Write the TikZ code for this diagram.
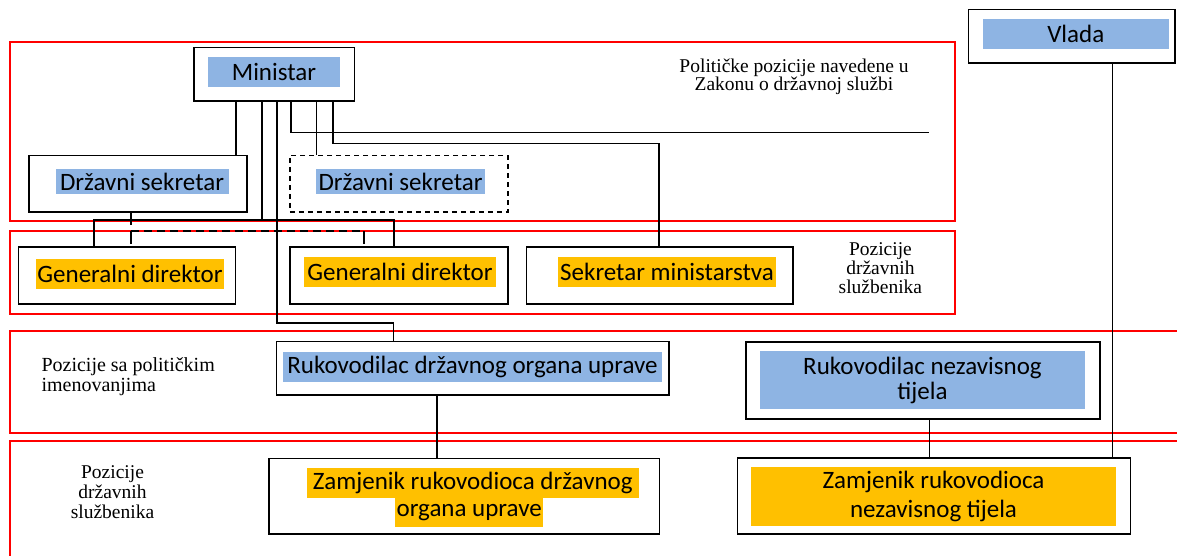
\documentclass[tikz,border=0pt]{standalone}
\usepackage{fontspec}
\setmainfont{Carlito}
\newfontfamily\seriffont{Liberation Serif}
\definecolor{hlblue}{HTML}{8EB4E3}
\definecolor{hlgold}{HTML}{FFC000}
\begin{document}
\begin{tikzpicture}[x=1pt,y=-1pt,
  frame/.style={draw=red, line width=2pt},
  box/.style={draw=black, line width=1.6pt, fill=white, inner sep=0pt},
  dbox/.style={box, dash pattern=on 5pt off 4pt},
  link/.style={draw=black, line width=1.6pt},
  dlink/.style={link, dash pattern=on 8pt off 5pt},
  hl/.style={inner sep=0pt, font=\fontsize{25}{29}\selectfont, align=center, text=black},
  hlb/.style={hl, fill=hlblue},
  hly/.style={hl, fill=hlgold},
  note/.style={font=\seriffont\fontsize{19.5}{18.5}\selectfont, align=center, inner sep=0pt}]
\useasboundingbox (0,0) rectangle (1177,555);

% red frames
\draw[frame] (9.6,42) rectangle (954.5,220.5);
\draw[frame] (9.6,230.7) rectangle (954.5,314);
\draw[frame] (1180,331) -- (9.6,331) -- (9.6,432.5) -- (1180,432.5);
\draw[frame] (1180,440.5) -- (9.6,440.5) -- (9.6,560);

% boxes
\node[box, minimum width=160.4pt, minimum height=53.4pt] (min) at (274.2,74) {};
\node[box, minimum width=218pt, minimum height=56.4pt] (ds1) at (137.75,183.5) {};
\node[dbox, minimum width=218pt, minimum height=56.4pt] (ds2) at (398.75,183.5) {};
\node[box, minimum width=217.3pt, minimum height=56.7pt] (gd1) at (127,275.6) {};
\node[box, minimum width=218.3pt, minimum height=56.7pt] (gd2) at (398.85,275.6) {};
\node[box, minimum width=266.4pt, minimum height=56.7pt] (sek) at (659.8,275.6) {};
\node[box, minimum width=206.3pt, minimum height=53.3pt] (vlada) at (1071.8,36.3) {};
\node[box, minimum width=392.9pt, minimum height=53.3pt] (rdou) at (472.75,368.3) {};
\node[box, minimum width=354pt, minimum height=77pt] (rnt) at (922.7,380.2) {};
\node[box, minimum width=390.6pt, minimum height=75.7pt] (zam1) at (464.3,496.2) {};
\node[box, minimum width=393pt, minimum height=76.3pt] (zam2) at (933.8,495.9) {};

% highlighted texts
\node[hlb, minimum width=132pt, minimum height=30pt] (minT) at (274,72) {Ministar};
\node[hlb, minimum width=173pt, minimum height=25pt] (ds1T) at (142,181.5) {Državni sekretar};
\node[hlb, minimum width=169pt, minimum height=25pt] (ds2T) at (400.5,181.5) {Državni sekretar};
\node[hly, minimum width=188pt, minimum height=29.4pt] (gd1T) at (130,274) {Generalni direktor};
\node[hly, minimum width=192pt, minimum height=29.7pt] (gd2T) at (400,271.8) {Generalni direktor};
\node[hly, minimum width=218pt, minimum height=29.7pt] (sekT) at (667,271.8) {Sekretar ministarstva};
\node[hlb, minimum width=186.3pt, minimum height=30pt] (vladaT) at (1075.8,34) {Vlada};
\node[hlb, minimum width=378.6pt, minimum height=29.4pt] (rdouT) at (472.5,367) {Rukovodilac državnog organa uprave};
\node[hlb, minimum width=325pt, minimum height=58.3pt, font=\fontsize{25}{25}\selectfont] (rntT) at (922.5,380.2) {Rukovodilac nezavisnog\\tijela};
\node[hly, minimum width=331.6pt, minimum height=30pt] (zam1a) at (472.8,483) {Zamjenik rukovodioca državnog};
\node[hly, minimum width=148.4pt, minimum height=28.7pt] (zam1b) at (469.2,512.3) {organa uprave};
\node[hly, minimum width=365pt, minimum height=59pt] (zam2T) at (933.5,496.2) {Zamjenik rukovodioca\\nezavisnog tijela};

% notes
\node[note] (n1) at (794,77) {Političke pozicije navedene u\\Zakonu o državnoj službi};
\node[note, font=\seriffont\fontsize{19.5}{19}\selectfont] (n2) at (880.4,268) {Pozicije\\državnih\\službenika};
\node[note, align=left, anchor=west, font=\seriffont\fontsize{20}{20}\selectfont] (n3) at (41.3,377) {Pozicije sa političkim\\imenovanjima};
\node[note, font=\seriffont\fontsize{19.5}{20}\selectfont] (n4) at (112.5,492) {Pozicije\\državnih\\službenika};

% connectors
\coordinate (lineEnd) at (928.6,132.3);
\draw[link] (236,0 |- min.south) -- (236,0 |- ds1.north);
\draw[link] (261.7,0 |- min.south) -- (261.7,220);
\draw[link] (94,0 |- gd1.north) -- (94,220) -- (394,220) -- (394,0 |- gd2.north);
\draw[link] (130.7,0 |- ds1.south) -- (130.7,225);
\draw[link] (130.7,244) -- (130.7,230.7);
\draw[link] (364,244) -- (364,230.7);
\draw[dlink] (130.7,230.7) -- (364,230.7);
\draw[link] (276.7,0 |- min.south) -- (276.7,322.7) -- (393.4,322.7) -- (393.4,0 |- rdou.north);
\draw[link] (291,0 |- min.south) -- (291,132.3) -- (lineEnd);
\draw[link] (316.3,0 |- min.south) -- (316.3,0 |- ds2.north);
\draw[link] (332.7,0 |- min.south) -- (332.7,143.3) -- (658.9,143.3) -- (658.9,0 |- sek.north);
\draw[link] (437,0 |- rdou.south) -- (437,0 |- zam1.north);
\draw[link] (929.4,0 |- rnt.south) -- (929.4,0 |- zam2.north);
\draw[link] (1112.3,0 |- vlada.south) -- (1112.3,0 |- zam2.north);
\end{tikzpicture}
\end{document}
